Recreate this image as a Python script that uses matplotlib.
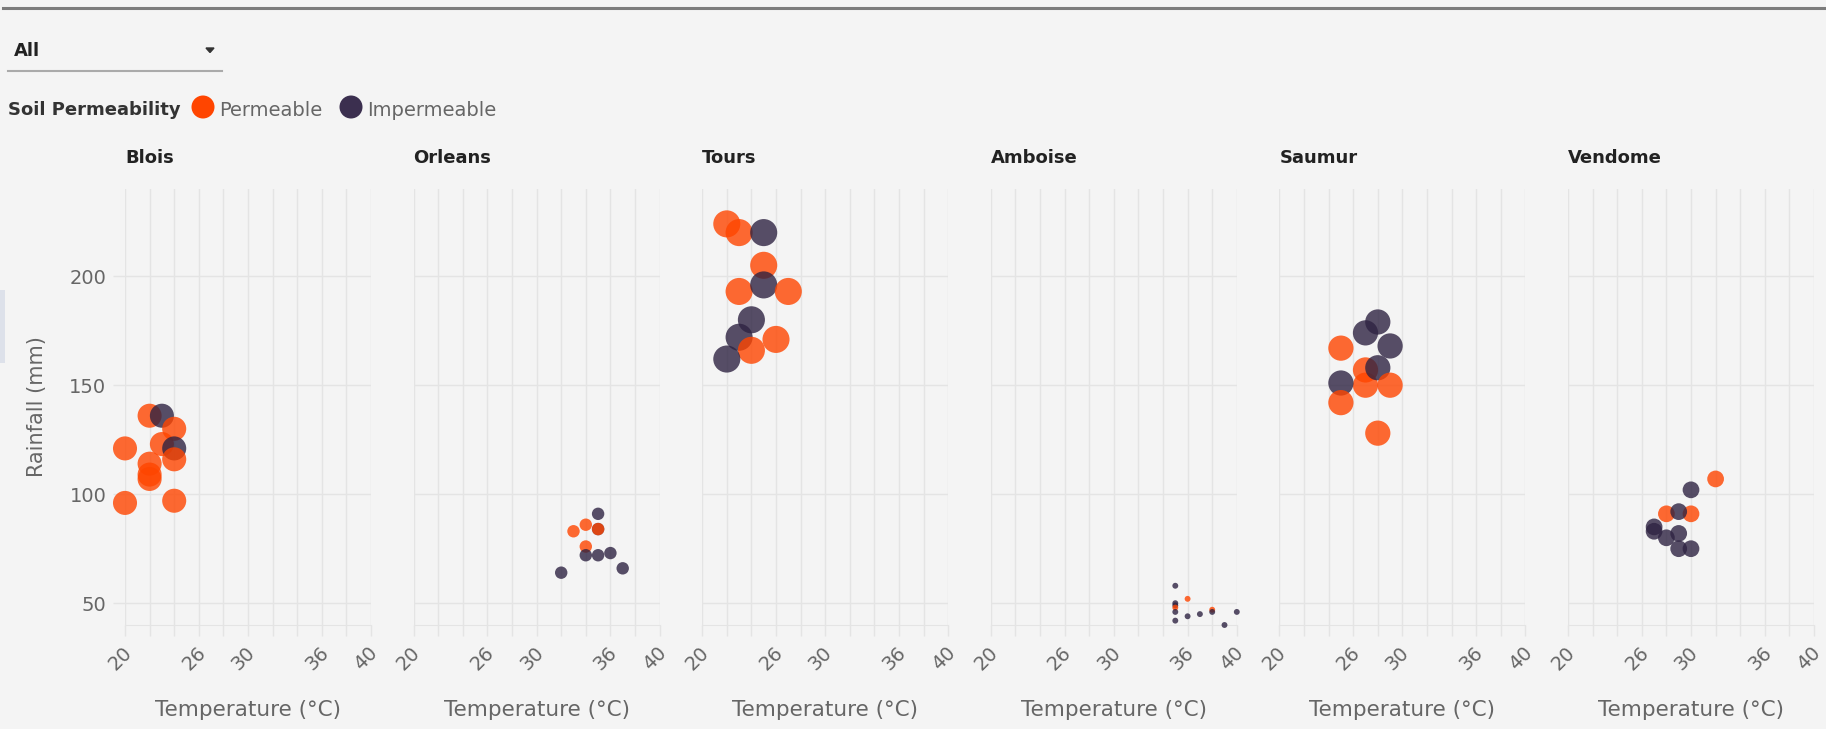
import matplotlib
matplotlib.use('Agg')
import matplotlib.pyplot as plt
from matplotlib.patches import Rectangle, Circle, Polygon
from matplotlib.transforms import ScaledTranslation

W, H = 1826, 729
BG = '#f4f4f4'
GRID = '#e4e4e4'
ORANGE = '#ff4500'
DARK = '#2e2342'
plt.rcParams['font.family'] = ['DejaVu Sans']

cities = ['Blois', 'Orleans', 'Tours', 'Amboise', 'Saumur', 'Vendome']
soil_labels = ['Permeable', 'Impermeable']
x_tick_labels = [20, 26, 30, 36, 40]
y_ticks = [50, 100, 150, 200]

# temperature (°C), rainfall (mm), soil type (P / I) per city
blois_temp = [22, 23, 24, 20, 23, 24, 24, 22, 22, 22, 20, 24]
blois_rain = [136, 136, 130, 121, 123, 121, 116, 114, 107, 109, 96, 97]
blois_soil = ['P', 'I', 'P', 'P', 'P', 'I', 'P', 'P', 'P', 'P', 'P', 'P']

orleans_temp = [35, 34, 35, 35, 33, 34, 34, 35, 36, 37, 32]
orleans_rain = [91, 86, 84, 84, 83, 76, 72, 72, 73, 66, 64]
orleans_soil = ['I', 'P', 'I', 'P', 'P', 'P', 'I', 'I', 'I', 'I', 'I']

tours_temp = [22, 23, 25, 25, 23, 25, 27, 24, 23, 26, 24, 22]
tours_rain = [224, 220, 220, 205, 193, 196, 193, 180, 172, 171, 166, 162]
tours_soil = ['P', 'P', 'I', 'P', 'P', 'I', 'P', 'I', 'I', 'P', 'P', 'I']

amboise_temp = [35, 36, 35, 35, 35, 35, 38, 38, 36, 37, 40, 35, 39]
amboise_rain = [58, 52, 50, 49, 48, 46, 47, 46, 44, 45, 46, 42, 40]
amboise_soil = ['I', 'P', 'I', 'I', 'P', 'I', 'P', 'I', 'I', 'I', 'I', 'I', 'I']

saumur_temp = [28, 27, 25, 29, 27, 27, 28, 25, 29, 25, 28]
saumur_rain = [179, 174, 167, 168, 157, 150, 158, 151, 150, 142, 128]
saumur_soil = ['I', 'I', 'P', 'I', 'P', 'P', 'I', 'I', 'P', 'P', 'P']

vendome_temp = [32, 30, 28, 30, 29, 27, 27, 29, 28, 29, 30]
vendome_rain = [107, 102, 91, 91, 92, 85, 83, 82, 80, 75, 75]
vendome_soil = ['P', 'I', 'P', 'P', 'I', 'I', 'I', 'I', 'I', 'I', 'I']

city_data = {
    'Blois': (blois_temp, blois_rain, blois_soil),
    'Orleans': (orleans_temp, orleans_rain, orleans_soil),
    'Tours': (tours_temp, tours_rain, tours_soil),
    'Amboise': (amboise_temp, amboise_rain, amboise_soil),
    'Saumur': (saumur_temp, saumur_rain, saumur_soil),
    'Vendome': (vendome_temp, vendome_rain, vendome_soil),
}
# marker area per city (points^2)
marker_size = {'Blois': 300, 'Orleans': 80, 'Tours': 380,
               'Amboise': 18, 'Saumur': 330, 'Vendome': 145}
soil_color = {'P': ORANGE, 'I': DARK}

fig = plt.figure(figsize=(W / 100, H / 100), dpi=100, facecolor=BG)

# overlay in pixel coordinates for header, legend and titles
ov = fig.add_axes([0, 0, 1, 1])
ov.set_xlim(0, W)
ov.set_ylim(H, 0)
ov.axis('off')

ov.plot([3, W], [8, 8], color='#7c7c7c', lw=2.2)
ov.add_patch(Rectangle((0, 290), 5, 73, color='#dde1ea', lw=0))

ov.text(14, 51, 'All', fontsize=13, fontweight='bold', color='#222', va='center')
ov.add_patch(Polygon([(206, 48), (214, 48), (210, 52.5)], color='#333'))
ov.plot([8, 222], [71, 71], color='#aaaaaa', lw=1.5)

ov.text(8, 110, 'Soil Permeability', fontsize=13, fontweight='bold', color='#333', va='center')
ov.add_patch(Circle((203, 107), 11.5, color=ORANGE, lw=0))
ov.text(219, 110, soil_labels[0], fontsize=14, color='#666', va='center')
ov.add_patch(Circle((351, 107), 11.5, color='#3b2f4f', lw=0))
ov.text(367, 110, soil_labels[1], fontsize=14, color='#666', va='center')

ov.text(37, 407, 'Rainfall (mm)', fontsize=15, color='#666', rotation=90,
        ha='center', va='center')

offset = ScaledTranslation(4 / 100, 0, fig.dpi_scale_trans)
for i, city in enumerate(cities):
    left = 125 + i * 288.6
    ax = fig.add_axes([left / W, 1 - 625 / H, 246 / W, 436 / H])
    ax.set_facecolor('none')
    temp, rain, soil = city_data[city]
    ax.scatter(temp, rain, s=marker_size[city], c=[soil_color[s] for s in soil],
               alpha=0.8, linewidths=0, zorder=3, clip_on=False)
    ax.set_xlim(20, 40)
    ax.set_ylim(40, 240)
    ticks = list(range(20, 41, 2))
    ax.set_xticks(ticks)
    ax.set_xticklabels([str(t) if t in x_tick_labels else '' for t in ticks],
                       rotation=45, ha='right', va='center', rotation_mode='anchor')
    ax.set_yticks(y_ticks)
    ax.grid(True, color=GRID, lw=1, zorder=0)
    for side in ['top', 'right', 'left']:
        ax.spines[side].set_visible(False)
    ax.spines['bottom'].set_color(GRID)
    ax.tick_params(axis='x', length=8, width=1, color=GRID, labelsize=14,
                   labelcolor='#666', pad=10)
    ax.tick_params(axis='y', length=8.5 if i == 0 else 0, width=1, color=GRID,
                   labelsize=14, labelcolor='#666', labelleft=(i == 0), pad=5)
    # shift rotated labels a little to the right (after tick_params)
    for lab in ax.get_xticklabels():
        lab.set_transform(lab.get_transform() + offset)
    ov.text(left, 158, city, fontsize=13, fontweight='bold', color='#222', va='center')
    ov.text(left + 123, 710, 'Temperature (°C)', fontsize=15.5, color='#666',
            ha='center', va='center')

fig.savefig('out.png', dpi=100, facecolor=BG)
